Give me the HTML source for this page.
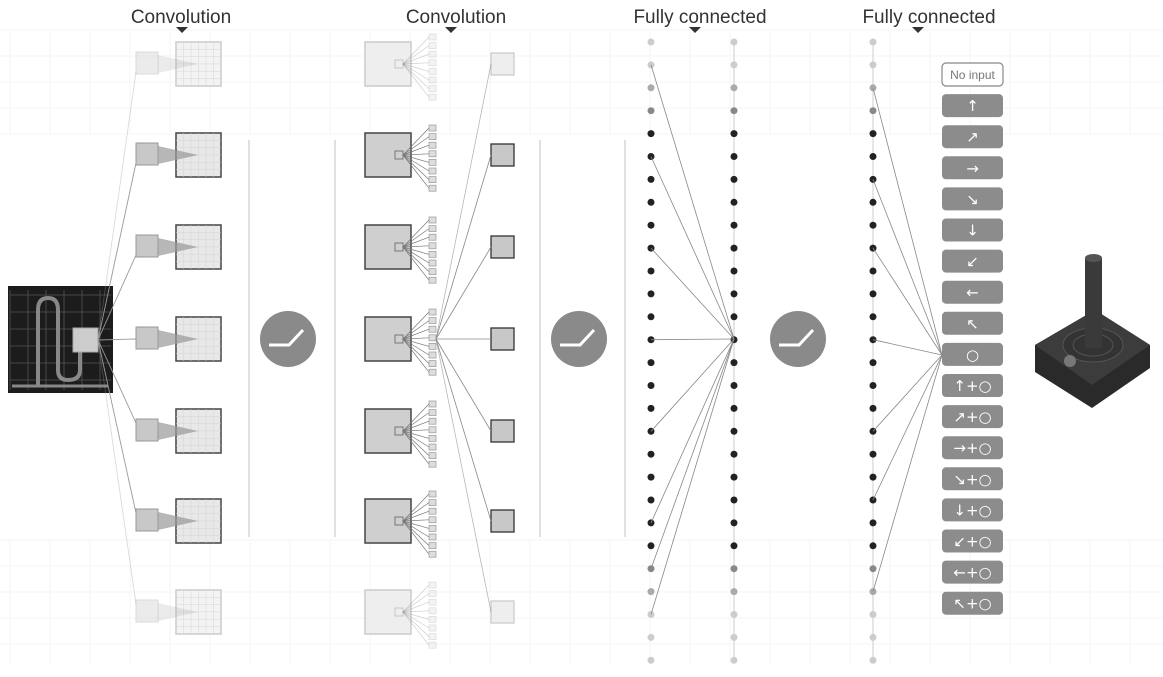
<!DOCTYPE html>
<html><head><meta charset="utf-8">
<style>
html,body{margin:0;padding:0;background:#fff;}
body{width:1163px;height:677px;overflow:hidden;font-family:"Liberation Sans",sans-serif;}
svg{display:block}
</style></head>
<body>
<svg id="s" width="1163" height="677" viewBox="0 0 1163 677" xmlns="http://www.w3.org/2000/svg">
<g id="grid" stroke="#f6f6f6" stroke-width="1"></g>
<g id="main"></g>
<text x="181" y="23" font-size="19" fill="#333" text-anchor="middle" font-family="Liberation Sans, sans-serif">Convolution</text>
<text x="456" y="23" font-size="19" fill="#333" text-anchor="middle" font-family="Liberation Sans, sans-serif">Convolution</text>
<text x="700" y="23" font-size="19" fill="#333" text-anchor="middle" font-family="Liberation Sans, sans-serif">Fully connected</text>
<text x="929" y="23" font-size="19" fill="#333" text-anchor="middle" font-family="Liberation Sans, sans-serif">Fully connected</text>
<polygon points="176,27 188,27 182,33" fill="#333"/>
<polygon points="445,27 457,27 451,33" fill="#333"/>
<polygon points="689,27 701,27 695,33" fill="#333"/>
<polygon points="912,27 924,27 918,33" fill="#333"/>
</svg>
<script>
const NS="http://www.w3.org/2000/svg";
const g=document.getElementById('main');
const grid=document.getElementById('grid');
function el(t,a,p){const e=document.createElementNS(NS,t);for(const k in a)e.setAttribute(k,a[k]);(p||g).appendChild(e);return e;}
for(let x=10;x<1163;x+=40){el('line',{x1:x,y1:30,x2:x,y2:135},grid);el('line',{x1:x,y1:540,x2:x,y2:665},grid);}
for(let y=30;y<=135;y+=26){el('line',{x1:0,y1:y,x2:1163,y2:y},grid);}
for(let y=540;y<=665;y+=26){el('line',{x1:0,y1:y,x2:1163,y2:y},grid);}
[249,335,540,625].forEach(x=>el('line',{x1:x,y1:140,x2:x,y2:537,stroke:'#ccc','stroke-width':1.2}));
const rows=[64,155,247,339,431,521,612];
el('rect',{x:8,y:286,width:105,height:107,fill:'#1c1c1c'});
for(let i=0;i<6;i++){el('line',{x1:10+i*18,y1:290,x2:10+i*18,y2:390,stroke:'#555','stroke-width':0.8});el('line',{x1:10,y1:295+i*17,x2:111,y2:295+i*17,stroke:'#555','stroke-width':0.8});}
el('path',{d:'M38,385 L38,310 Q38,298 48,298 Q58,298 58,310 L58,370 Q58,380 68,380 Q80,380 80,370 L80,340',fill:'none',stroke:'#888','stroke-width':4});
el('line',{x1:12,y1:386,x2:108,y2:386,stroke:'#888','stroke-width':3});
el('rect',{x:73,y:328,width:25,height:24,fill:'#ccc',stroke:'#aaa'});
rows.forEach((y,i)=>{
 const faded=(i==0||i==6);
 const op=faded?0.35:1;
 el('line',{x1:98,y1:340,x2:136,y2:y+(i<3?8:(i>3?-8:0)),stroke:'#999','stroke-width':0.9,opacity:op});
 el('rect',{x:176,y:y-22,width:45,height:44,fill:faded?'#f3f3f3':'#e8e8e8',stroke:faded?'#ccc':'#444','stroke-width':1.5});
 for(let k=1;k<6;k++){el('line',{x1:176+k*7.5,y1:y-22,x2:176+k*7.5,y2:y+22,stroke:'#d4d4d4','stroke-width':0.5});el('line',{x1:176,y1:y-22+k*7.3,x2:221,y2:y-22+k*7.3,stroke:'#d4d4d4','stroke-width':0.5});}
 el('polygon',{points:`158,${y-9} 198,${y} 158,${y+9}`,fill:'#999',opacity:faded?0.2:0.7});
 el('rect',{x:136,y:y-12,width:22,height:22,fill:'#c8c8c8',stroke:'#999',opacity:op});
});
rows.forEach((y,i)=>{
 const faded=(i==0||i==6);const op=faded?0.35:1;
 el('rect',{x:365,y:y-22,width:46,height:44,fill:faded?'#eee':'#cfcfcf',stroke:faded?'#ccc':'#444','stroke-width':1.5});
 el('rect',{x:395,y:y-4,width:8,height:8,fill:'none',stroke:'#777',opacity:op});
 for(let k=0;k<8;k++){const yy=y-30+k*8.6;
  el('line',{x1:403,y1:y,x2:429,y2:yy+3,stroke:'#777','stroke-width':0.7,opacity:op});
  el('rect',{x:429,y:yy,width:7,height:6,fill:'#ddd',stroke:'#999','stroke-width':0.7,opacity:op});}
 el('rect',{x:491,y:y-11,width:23,height:22,fill:faded?'#eee':'#c8c8c8',stroke:faded?'#ccc':'#333','stroke-width':1.3});
 el('line',{x1:436,y1:339,x2:491,y2:y,stroke:'#888','stroke-width':0.8,opacity:faded?0.6:1});
});
[288,579,798].forEach(x=>{el('circle',{cx:x,cy:339,r:28,fill:'#8a8a8a'});el('path',{d:`M${x-19},345 L${x+1},345 L${x+15},330`,fill:'none',stroke:'#fff','stroke-width':3});});
const N=28;
function dcol(i){if(i<=1||i>=25)return '#ccc';if(i==2||i==24)return '#aaa';if(i==3||i==23)return '#888';return '#222';}
const dy=i=>42+i*22.9;
el('line',{x1:734,y1:42,x2:734,y2:660,stroke:'#ccc','stroke-width':1});
el('line',{x1:873,y1:42,x2:873,y2:660,stroke:'#ccc','stroke-width':1});
[651,734].forEach(x=>{for(let i=0;i<N;i++)el('circle',{cx:x,cy:dy(i),r:3.5,fill:dcol(i)});});
for(let i=0;i<N;i++)el('circle',{cx:873,cy:dy(i),r:3.5,fill:dcol(i)});
[1,5,9,13,17,21,23,25].forEach(i=>el('line',{x1:651,y1:dy(i),x2:734,y2:339,stroke:'#888','stroke-width':0.8}));
[2,6,9,13,17,20,24].forEach(i=>el('line',{x1:873,y1:dy(i),x2:942,y2:355,stroke:'#888','stroke-width':0.8}));
const labels=['No input','↑','↗','→','↘','↓','↙','←','↖','○','↑+○','↗+○','→+○','↘+○','↓+○','↙+○','←+○','↖+○'];
labels.forEach((t,i)=>{const y=63+i*31.1;
 if(i==0){el('rect',{x:942,y:y,width:61,height:23,rx:4,fill:'#fff',stroke:'#888','stroke-width':1.2});
  const tx=el('text',{x:972.5,y:y+16,'font-size':12,fill:'#777','text-anchor':'middle','font-family':'Liberation Sans, sans-serif'});tx.textContent=t;}
 else{el('rect',{x:942,y:y,width:61,height:23,rx:4,fill:'#8c8c8c'});
  const tx=el('text',{x:972.5,y:y+17,'font-size':15,fill:'#fff','text-anchor':'middle','font-family':'DejaVu Sans, sans-serif'});tx.textContent=t;}
});
el('polygon',{points:'1035,345 1095,310 1150,345 1150,368 1092,408 1035,372',fill:'#2a2a2a'});
el('polygon',{points:'1035,345 1095,310 1150,345 1092,385',fill:'#3c3c3c'});
el('ellipse',{cx:1093,cy:345,rx:30,ry:17,fill:'#333',stroke:'#555'});
el('ellipse',{cx:1093,cy:345,rx:20,ry:11,fill:'none',stroke:'#555'});
el('circle',{cx:1070,cy:361,r:6,fill:'#777'});
el('rect',{x:1085,y:258,width:17,height:90,fill:'#3a3a3a'});
el('ellipse',{cx:1093.5,cy:258,rx:8.5,ry:4,fill:'#555'});
</script>
</body></html>
